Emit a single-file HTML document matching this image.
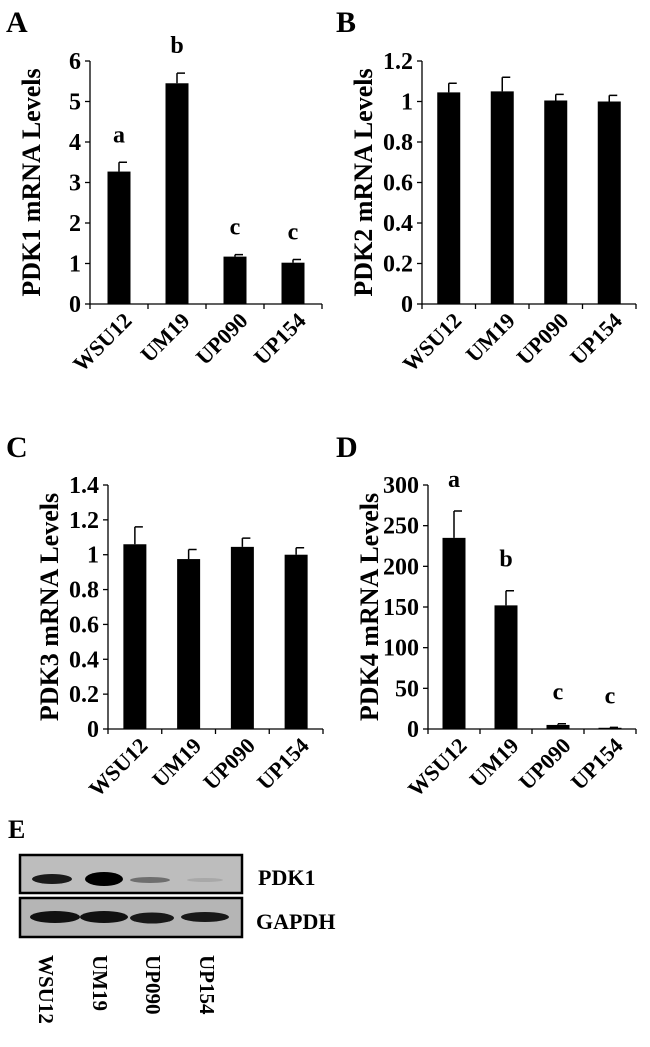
<!DOCTYPE html>
<html><head><meta charset="utf-8"><style>
html,body{margin:0;padding:0;background:#fff;}
svg text{font-family:"Liberation Serif",serif;font-weight:bold;fill:#000;}
</style></head><body>
<svg id="fig" width="650" height="1042" viewBox="0 0 650 1042" xmlns="http://www.w3.org/2000/svg">
<text x="6" y="32" font-size="30">A</text>
<text x="336" y="32" font-size="30">B</text>
<text x="6" y="457" font-size="30">C</text>
<text x="336" y="457" font-size="30">D</text>
<text x="8" y="838" font-size="26">E</text>
<g id="charts"></g>
<g>
  <rect x="20" y="855" width="222" height="38" fill="#bdbdbd" stroke="#000" stroke-width="2.5"/>
  <rect x="20" y="898" width="222" height="39" fill="#b5b5b5" stroke="#000" stroke-width="2.5"/>
  <ellipse cx="52" cy="879" rx="20" ry="5" fill="#1a1a1a"/>
  <ellipse cx="104" cy="879" rx="19" ry="7" fill="#000"/>
  <ellipse cx="150" cy="880" rx="20" ry="3" fill="#6e6e6e"/>
  <ellipse cx="205" cy="880" rx="18" ry="2" fill="#a8a8a8"/>
  <ellipse cx="55" cy="917" rx="25" ry="6" fill="#111"/>
  <ellipse cx="104" cy="917" rx="24" ry="6" fill="#111"/>
  <ellipse cx="152" cy="918" rx="22" ry="5.5" fill="#181818"/>
  <ellipse cx="205" cy="917" rx="24" ry="5" fill="#181818"/>
  <text x="258" y="885" font-size="22">PDK1</text>
  <text x="256" y="929" font-size="22">GAPDH</text>
  <text transform="translate(39,955) rotate(90)" font-size="21">WSU12</text>
  <text transform="translate(93,955) rotate(90)" font-size="21">UM19</text>
  <text transform="translate(146,955) rotate(90)" font-size="21">UP090</text>
  <text transform="translate(200,955) rotate(90)" font-size="21">UP154</text>
</g>
</svg>
<script>
const categories = ["WSU12","UM19","UP090","UP154"];
const pdk1Values = [3.27, 5.45, 1.17, 1.02];
const pdk1Errors = [0.23, 0.25, 0.05, 0.08];
const pdk1Letters = ["a","b","c","c"];
const pdk1Ticks = ["0","1","2","3","4","5","6"];
const pdk2Values = [1.045, 1.05, 1.005, 1.0];
const pdk2Errors = [0.045, 0.07, 0.03, 0.03];
const pdk2Ticks = ["0","0.2","0.4","0.6","0.8","1","1.2"];
const pdk3Values = [1.06, 0.975, 1.045, 1.0];
const pdk3Errors = [0.1, 0.055, 0.05, 0.04];
const pdk3Ticks = ["0","0.2","0.4","0.6","0.8","1","1.2","1.4"];
const pdk4Values = [235, 152, 5, 1.5];
const pdk4Errors = [33, 18, 1.5, 0.5];
const pdk4Letters = ["a","b","c","c"];
const pdk4Ticks = ["0","50","100","150","200","250","300"];

const NS = "http://www.w3.org/2000/svg";
const root = document.getElementById("charts");
function mk(tag, attrs, parent){const e=document.createElementNS(NS,tag);for(const k in attrs)e.setAttribute(k,attrs[k]);parent.appendChild(e);return e;}

function chart(id, x0, x1, y0, yTop, ticks, values, errors, letters, title, letterPos){
  const g = mk("g",{},root);
  
  
  const tickVals = ticks.map(Number);
  const vmax = tickVals[tickVals.length-1];
  const ys = v => y0 - (v/vmax)*(y0-yTop);
  const n = categories.length;
  const cw = (x1-x0)/n;
  const xs = i => x0 + cw*(i+0.5);
  const ax = mk("path",{d:`M${x0} ${yTop}V${y0}H${x1}`,stroke:"#000","stroke-width":1.3,fill:"none"},g);
  
  
  tickVals.forEach((v,i)=>{
    const y=ys(v);
    const t=mk("line",{x1:x0-5,x2:x0,y1:y,y2:y,stroke:"#000","stroke-width":1.3},g);
    
    
    const tl=mk("text",{x:x0-9,y:y+8,"font-size":24,"text-anchor":"end"},g);
    tl.textContent=ticks[i];
    
    
  });
  for(let i=0;i<=n;i++){
    const x=x0+cw*i;
    const t=mk("line",{x1:x,x2:x,y1:y0,y2:y0+5,stroke:"#000","stroke-width":1.3},g);
    
    
  }
  const bw=23;
  categories.forEach((c,i)=>{
    const cx=xs(i), top=ys(values[i]);
    const b=mk("rect",{x:cx-bw/2,y:top,width:bw,height:y0-top,fill:"#000"},g);
    
    
    const et=ys(values[i]+errors[i]);
    const e=mk("path",{d:`M${cx} ${top}V${et}M${cx} ${et}H${cx+8}`,stroke:"#000","stroke-width":1.5,fill:"none"},g);
    
    
    const xl=mk("text",{"font-size":22,"text-anchor":"end",transform:`translate(${cx+14},${y0+18}) rotate(-45)`},g);
    xl.textContent=c;
    
    
    if(letters){
      const lt=mk("text",{x:cx,y:ys(values[i]+errors[i])-letterPos,"font-size":24,"text-anchor":"middle"},g);
      lt.textContent=letters[i];
      
      
    }
  });
  const tt=mk("text",{"font-size":26,"text-anchor":"middle",transform:`translate(${x0-50},${(y0+yTop)/2}) rotate(-90)`},g);
  tt.textContent=title;
  
  
}
chart("chart-pdk1",90,322,304,61,pdk1Ticks,pdk1Values,pdk1Errors,pdk1Letters,"PDK1 mRNA Levels",20);
chart("chart-pdk2",422,636,304,61,pdk2Ticks,pdk2Values,pdk2Errors,null,"PDK2 mRNA Levels",0);
chart("chart-pdk3",108,323,729,485,pdk3Ticks,pdk3Values,pdk3Errors,null,"PDK3 mRNA Levels",0);
chart("chart-pdk4",428,636,729,485,pdk4Ticks,pdk4Values,pdk4Errors,pdk4Letters,"PDK4 mRNA Levels",24);
</script>
</body></html>
